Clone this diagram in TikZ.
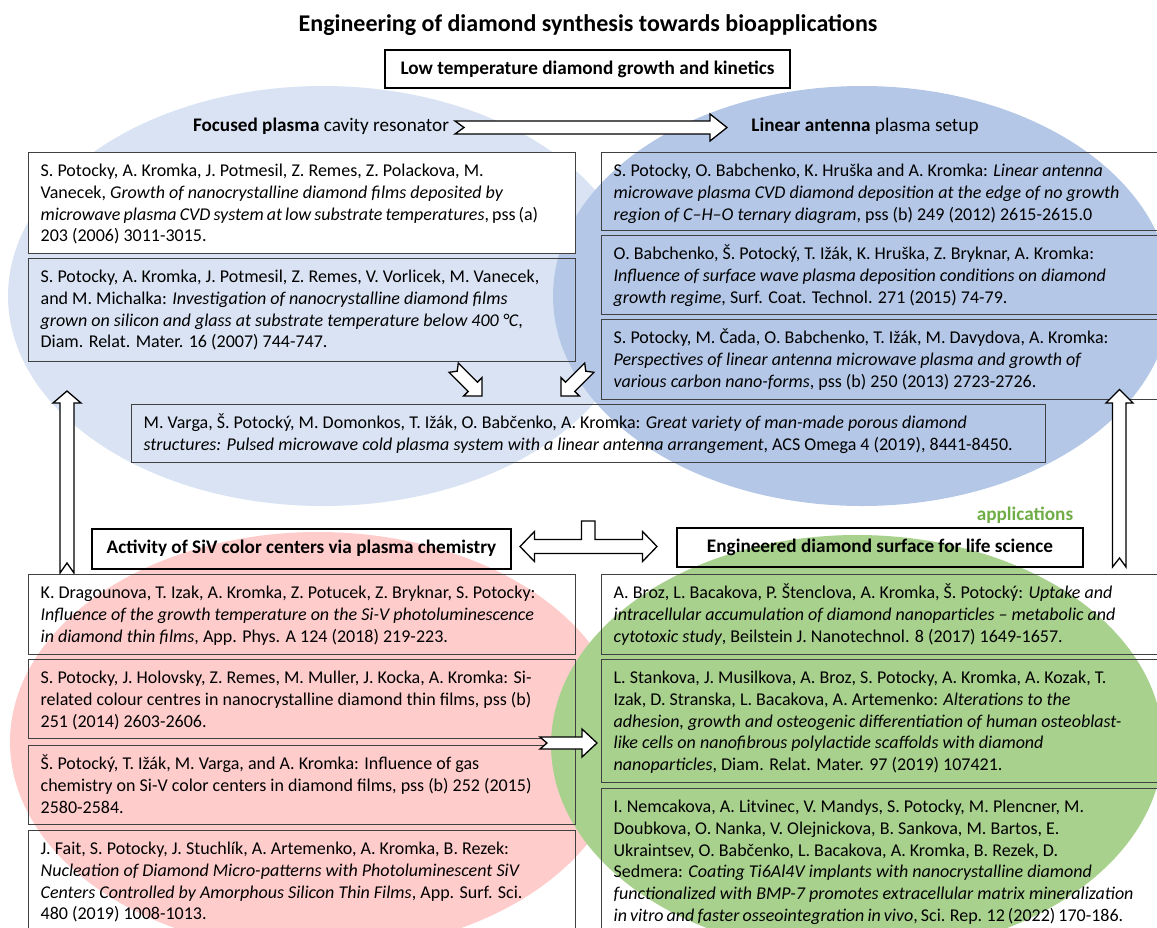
\documentclass[tikz,border=0pt]{standalone}
\usepackage{fontspec}
\setmainfont{Carlito}
\definecolor{lblue}{HTML}{DAE3F3}
\definecolor{dblue}{HTML}{B4C7E7}
\definecolor{lpink}{HTML}{FFCCCC}
\definecolor{lgreen}{HTML}{A9D18E}
\definecolor{boxgray}{HTML}{404040}
\definecolor{appgreen}{HTML}{70AD47}
\newcommand\reffont{\fontsize{18}{21.7}\selectfont}
\newcommand\hdfont{\fontsize{19.2}{23}\selectfont}
\newcommand\firststrut{\rule{0pt}{24pt}}
\newcommand\tightsp[1]{{\spaceskip=0.17em\relax #1}}
\begin{document}
\begin{tikzpicture}[x=1pt,y=-1pt,
  refbox/.style={draw=boxgray, line width=1.3pt, inner xsep=12pt, inner ysep=0pt, anchor=north west, font=\reffont},
  headbox/.style={draw=black, line width=2pt, font=\bfseries\hdfont, inner sep=0pt},
  blockarrow/.style={draw=black, fill=white, line width=1.3pt, line join=miter}]
\useasboundingbox (0,0) rectangle (1157,927);
\clip (0,0) rectangle (1157,927);
% background ellipses
\fill[lblue] (323,296) ellipse [x radius=315pt, y radius=210pt];
\fill[dblue] (862,296) ellipse [x radius=309pt, y radius=210pt];
\fill[lpink] (318,742) ellipse [x radius=308pt, y radius=210pt];
\fill[lgreen] (857,745) ellipse [x radius=306pt, y radius=210pt];
% title
\node[font=\bfseries\fontsize{24}{28}\selectfont] (title) at (588,25) {Engineering of diamond synthesis towards bioapplications};
\node[headbox, minimum width=405pt, minimum height=38pt] (low) at (587.5,69) {Low temperature diamond growth and kinetics};
\node[font=\hdfont] (fp) at (321,126) {\textbf{Focused plasma} cavity resonator};
\node[font=\hdfont] (la) at (865,126) {\textbf{Linear antenna} plasma setup};
% top horizontal arrow
\draw[blockarrow] (455,121) -- (710,121) -- (710,114) -- (727,127.5) -- (710,141) -- (710,134) -- (455,134) -- (464,127.5) -- cycle;
% left top references
\node[refbox, fill=white] (lt1) at (28,152) {\parbox[c][101pt][t]{523pt}{\raggedright\firststrut S. Potocky, A. Kromka, J. Potmesil, Z. Remes, Z. Polackova, M.\\
Vanecek, \textit{Growth of nanocrystalline diamond films deposited by}\\
\tightsp{\textit{microwave plasma CVD system at low substrate temperatures}, pss (a)}\\
203 (2006) 3011-3015.}};
\node[refbox] (lt2) at (28,258) {\parbox[c][103pt][t]{523pt}{\raggedright\firststrut S. Potocky, A. Kromka, J. Potmesil, Z. Remes, V. Vorlicek, M. Vanecek,\\
and M. Michalka: \textit{Investigation of nanocrystalline diamond films}\\
\textit{grown on silicon and glass at substrate temperature below 400 °C},\\
Diam. Relat. Mater. 16 (2007) 744-747.}};
% right top references
\node[refbox] (rt1) at (601,152) {\parbox[c][78pt][t]{536pt}{\raggedright\firststrut S. Potocky, O. Babchenko, K. Hruška and A. Kromka: \textit{Linear antenna}\\
\textit{microwave plasma CVD diamond deposition at the edge of no growth}\\
\textit{region of C–H–O ternary diagram}, pss (b) 249 (2012) 2615-2615.0}};
\node[refbox] (rt2) at (601,235) {\parbox[c][79pt][t]{536pt}{\raggedright\firststrut O. Babchenko, Š. Potocký, T. Ižák, K. Hruška, Z. Bryknar, A. Kromka:\\
\textit{Influence of surface wave plasma deposition conditions on diamond}\\
\textit{growth regime}, Surf. Coat. Technol. 271 (2015) 74-79.}};
\node[refbox] (rt3) at (601,319) {\parbox[c][80pt][t]{536pt}{\raggedright\firststrut S. Potocky, M. Čada, O. Babchenko, T. Ižák, M. Davydova, A. Kromka:\\
\textit{Perspectives of linear antenna microwave plasma and growth of}\\
\textit{various carbon nano-forms}, pss (b) 250 (2013) 2723-2726.}};
% diagonal arrows
\draw[blockarrow] (458.3,363.1) -- (477.4,382.2) -- (482.0,377.6) -- (482,396) -- (463.6,396.0) -- (468.2,391.4) -- (449.1,372.3) -- (457.2,371.2) -- cycle;
\draw[blockarrow] (584.7,363.1) -- (565.6,382.2) -- (561.0,377.6) -- (561,396) -- (579.4,396.0) -- (574.8,391.4) -- (593.9,372.3) -- (585.8,371.2) -- cycle;
% middle reference
\node[refbox] (mid) at (131,404) {\parbox[c][58pt][t]{890pt}{\raggedright\firststrut M. Varga, Š. Potocký, M. Domonkos, T. Ižák, O. Babčenko, A. Kromka: \textit{Great variety of man-made porous diamond}\\
\textit{structures: Pulsed microwave cold plasma system with a linear antenna arrangement}, ACS Omega 4 (2019), 8441-8450.}};
% vertical arrows
\draw[blockarrow] (60,573) -- (60,403) -- (53,403) -- (67,391) -- (81,403) -- (74,403) -- (74,573) -- (67,563) -- cycle;
\draw[blockarrow] (1112.5,567) -- (1112.5,403) -- (1106,403) -- (1119.5,389.5) -- (1133,403) -- (1126,403) -- (1126,567) -- (1119.5,558) -- cycle;
% section headers
\node[font=\bfseries\hdfont, text=appgreen] (app) at (1025,515) {applications};
\node[headbox, minimum width=419pt, minimum height=40pt] (siv) at (301.5,548.5) {Activity of SiV color centers via plasma chemistry};
\node[headbox, minimum width=406pt, minimum height=39pt] (eng) at (880,547.5) {Engineered diamond surface for life science};
\draw[blockarrow] (520,546.5) -- (534.5,531.5) -- (534.5,539.5) -- (581.5,539.5) -- (581.5,521) -- (595,521) -- (595,539.5) -- (642.5,539.5) -- (642.5,531.5) -- (657,546.5) -- (642.5,561.5) -- (642.5,553.5) -- (534.5,553.5) -- (534.5,561.5) -- cycle;
% left bottom references
\node[refbox] (lb1) at (28,574) {\parbox[c][80pt][t]{523pt}{\raggedright\firststrut K. Dragounova, T. Izak, A. Kromka, Z. Potucek, Z. Bryknar, S. Potocky:\\
\textit{Influence of the growth temperature on the Si-V photoluminescence}\\
\textit{in diamond thin films}, App. Phys. A 124 (2018) 219-223.}};
\node[refbox] (lb2) at (28,659) {\parbox[c][79pt][t]{523pt}{\raggedright\firststrut S. Potocky, J. Holovsky, Z. Remes, M. Muller, J. Kocka, A. Kromka: Si-\\
related colour centres in nanocrystalline diamond thin films, pss (b)\\
251 (2014) 2603-2606.}};
\node[refbox] (lb3) at (28,745) {\parbox[c][79pt][t]{523pt}{\raggedright\firststrut Š. Potocký, T. Ižák, M. Varga, and A. Kromka: Influence of gas\\
chemistry on Si-V color centers in diamond films, pss (b) 252 (2015)\\
2580-2584.}};
\node[refbox] (lb4) at (28,830) {\parbox[c][115pt][t]{523pt}{\raggedright\firststrut J. Fait, S. Potocky, J. Stuchlík, A. Artemenko, A. Kromka, B. Rezek:\\
\textit{Nucleation of Diamond Micro-patterns with Photoluminescent SiV}\\
\textit{Centers Controlled by Amorphous Silicon Thin Films}, App. Surf. Sci.\\
480 (2019) 1008-1013.}};
% right bottom references
\node[refbox] (rb1) at (601,574) {\parbox[c][80pt][t]{536pt}{\raggedright\firststrut A. Broz, L. Bacakova, P. Štenclova, A. Kromka, Š. Potocký: \textit{Uptake and}\\
\textit{intracellular accumulation of diamond nanoparticles – metabolic and}\\
\textit{cytotoxic study}, Beilstein J. Nanotechnol. 8 (2017) 1649-1657.}};
\node[refbox] (rb2) at (601,659) {\parbox[c][123pt][t]{536pt}{\raggedright\firststrut L. Stankova, J. Musilkova, A. Broz, S. Potocky, A. Kromka, A. Kozak, T.\\
Izak, D. Stranska, L. Bacakova, A. Artemenko: \textit{Alterations to the}\\
\textit{adhesion, growth and osteogenic differentiation of human osteoblast-}\\
\textit{like cells on nanofibrous polylactide scaffolds with diamond}\\
\textit{nanoparticles}, Diam. Relat. Mater. 97 (2019) 107421.}};
\node[refbox] (rb3) at (601,788) {\parbox[c][150pt][t]{536pt}{\raggedright\firststrut I. Nemcakova, A. Litvinec, V. Mandys, S. Potocky, M. Plencner, M.\\
Doubkova, O. Nanka, V. Olejnickova, B. Sankova, M. Bartos, E.\\
Ukraintsev, O. Babčenko, L. Bacakova, A. Kromka, B. Rezek, D.\\
Sedmera: \textit{Coating Ti6Al4V implants with nanocrystalline diamond}\\
\textit{functionalized with BMP-7 promotes extracellular matrix mineralization}\\
\tightsp{\textit{in vitro and faster osseointegration in vivo}, Sci. Rep. 12 (2022) 170-186.}}};
% horizontal arrow between bottom columns
\draw[blockarrow] (540,737) -- (582,737) -- (582,729) -- (597,743) -- (582,757) -- (582,749) -- (540,749) -- (547,743) -- cycle;
\end{tikzpicture}
\end{document}
